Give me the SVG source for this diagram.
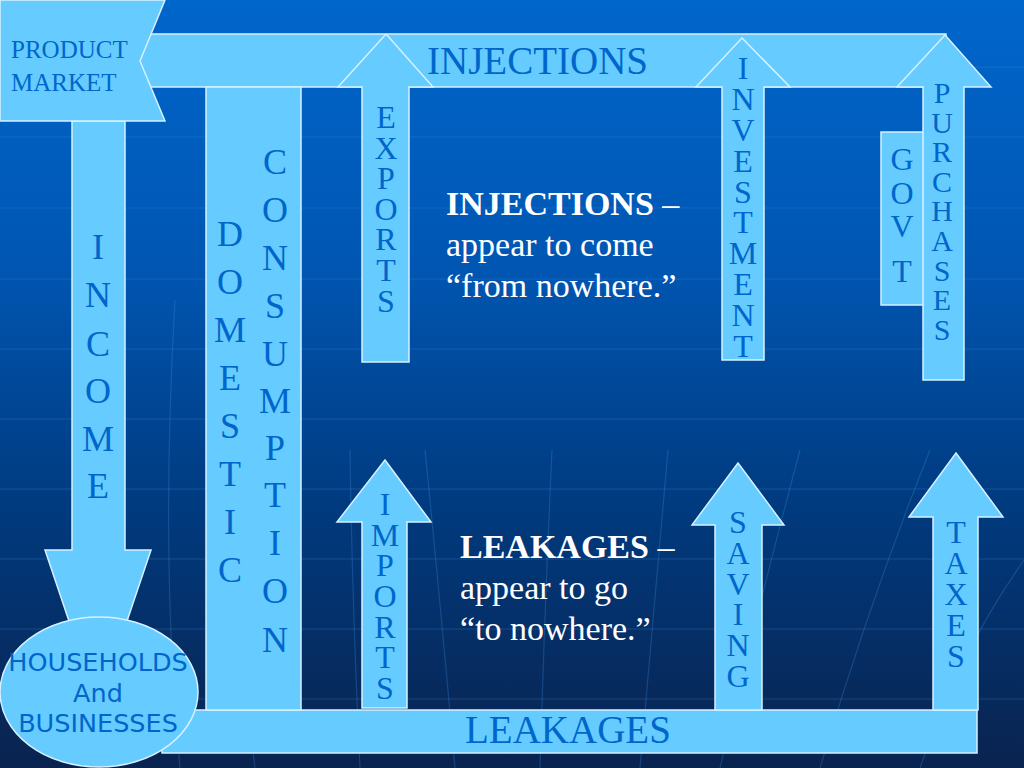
<svg xmlns="http://www.w3.org/2000/svg" width="1024" height="768" viewBox="0 0 1024 768">
<defs>
<linearGradient id="bg" x1="0" y1="0" x2="0" y2="1">
<stop offset="0" stop-color="#0066CC"/>
<stop offset="0.35" stop-color="#0056B2"/>
<stop offset="0.65" stop-color="#003B80"/>
<stop offset="1" stop-color="#0A234F"/>
</linearGradient>
<style>
.shape{fill:#66CCFF;stroke:#D6F1FF;stroke-width:1.5}
.lbl{font-family:"Liberation Serif","Times New Roman",serif;fill:#0066CC;text-anchor:middle}
.big{font-size:36px}
.sm{font-size:32px}
.head{font-family:"Liberation Serif","Times New Roman",serif;fill:#0066CC;font-size:39px}
.note{font-family:"Liberation Serif","Times New Roman",serif;fill:#FFFFFF;font-size:34px}
.grid{stroke:#3C8BDA;stroke-opacity:0.3;stroke-width:1.2;fill:none}
</style>
</defs>
<rect x="0" y="0" width="1024" height="768" fill="url(#bg)"/>
<g id="background-grid">
<path class="grid" d="M0 67H1024M0 137H1024M0 208H1024M0 279H1024M0 349H1024M0 419H1024M0 489H1024M0 559H1024M0 629H1024M0 699H1024"/>
<path class="grid" d="M360 768 Q352 600 350 450M455 768 Q440 600 425 450M540 768 Q545 600 552 450M640 768 Q655 600 668 450M720 768 Q760 600 800 450M820 768 Q870 600 930 450M920 768 Q960 650 1024 560M180 768 Q160 560 175 300M255 768 Q235 600 240 450"/>
</g>
<g id="connectors">
<rect id="injections-bar" class="shape" x="140" y="34" width="806" height="53"/>
<rect id="leakages-bar" class="shape" x="162" y="710" width="815" height="43"/>
<polygon id="income-arrow" class="shape" points="72,121 125,121 125,550 151,550 98,707 45,550 72,550"/>
</g>
<g id="injections-label"><text class="head" x="427" y="74">INJECTIONS</text></g>
<g id="leakages-label"><text class="head" x="465" y="743">LEAKAGES</text></g>
<g id="product-market">
<polygon class="shape" points="0,0 165,0 140,61 165,121 0,121"/>
<text font-family="Liberation Serif, Times New Roman, serif" font-size="25" fill="#0066CC"><tspan x="11" y="58">PRODUCT</tspan><tspan x="11" y="91">MARKET</tspan></text>
</g>
<g id="income-label">
<text class="lbl big"><tspan x="98" y="259">I</tspan><tspan x="98" y="307">N</tspan><tspan x="98" y="356">C</tspan><tspan x="98" y="403">O</tspan><tspan x="98" y="451">M</tspan><tspan x="98" y="498">E</tspan></text>
</g>
<g id="domestic-consumption">
<rect class="shape" x="206" y="87" width="95" height="623"/>
<text class="lbl big"><tspan x="230" y="246">D</tspan><tspan x="230" y="294">O</tspan><tspan x="230" y="342">M</tspan><tspan x="230" y="390">E</tspan><tspan x="230" y="438">S</tspan><tspan x="230" y="486">T</tspan><tspan x="230" y="534">I</tspan><tspan x="230" y="582">C</tspan></text>
<text class="lbl big"><tspan x="275" y="174">C</tspan><tspan x="275" y="222">O</tspan><tspan x="275" y="270">N</tspan><tspan x="275" y="318">S</tspan><tspan x="275" y="366">U</tspan><tspan x="275" y="413">M</tspan><tspan x="275" y="460">P</tspan><tspan x="275" y="507">T</tspan><tspan x="275" y="555">I</tspan><tspan x="275" y="603">O</tspan><tspan x="275" y="652">N</tspan></text>
</g>
<g id="households">
<ellipse class="shape" cx="99" cy="692" rx="99" ry="75"/>
<text font-family="DejaVu Sans, Verdana, sans-serif" font-size="25.5" fill="#0066CC" text-anchor="middle"><tspan x="98" y="671">HOUSEHOLDS</tspan><tspan x="98" y="702">And</tspan><tspan x="98" y="732">BUSINESSES</tspan></text>
</g>
<g id="exports">
<polygon class="shape" points="386,34 433,87 409,87 409,362 362,362 362,87 338,87"/>
<text class="lbl sm"><tspan x="386" y="128">E</tspan><tspan x="386" y="159">X</tspan><tspan x="386" y="189">P</tspan><tspan x="386" y="220">O</tspan><tspan x="386" y="250">R</tspan><tspan x="386" y="281">T</tspan><tspan x="386" y="312">S</tspan></text>
</g>
<g id="investment">
<polygon class="shape" points="742,38 790,87 764,87 764,360 722,360 722,87 696,87"/>
<text class="lbl sm"><tspan x="743" y="79">I</tspan><tspan x="743" y="110">N</tspan><tspan x="743" y="141">V</tspan><tspan x="743" y="172">E</tspan><tspan x="743" y="203">S</tspan><tspan x="743" y="233">T</tspan><tspan x="743" y="264">M</tspan><tspan x="743" y="295">E</tspan><tspan x="743" y="326">N</tspan><tspan x="743" y="357">T</tspan></text>
</g>
<g id="govt">
<rect class="shape" x="881" y="132" width="44" height="173"/>
<text class="lbl sm"><tspan x="902" y="170">G</tspan><tspan x="902" y="204">O</tspan><tspan x="902" y="237">V</tspan><tspan x="902" y="282">T</tspan></text>
</g>
<g id="purchases">
<polygon class="shape" points="945,35 991,87 964,87 964,380 923,380 923,87 897,87"/>
<text class="lbl" font-size="30"><tspan x="942" y="103">P</tspan><tspan x="942" y="133">U</tspan><tspan x="942" y="162">R</tspan><tspan x="942" y="192">C</tspan><tspan x="942" y="221">H</tspan><tspan x="942" y="251">A</tspan><tspan x="942" y="281">S</tspan><tspan x="942" y="310">E</tspan><tspan x="942" y="340">S</tspan></text>
</g>
<g id="imports">
<polygon class="shape" points="385,460 431,522 407,522 407,708 362,708 362,522 337,522"/>
<text class="lbl sm"><tspan x="385" y="515">I</tspan><tspan x="385" y="546">M</tspan><tspan x="385" y="576">P</tspan><tspan x="385" y="607">O</tspan><tspan x="385" y="638">R</tspan><tspan x="385" y="668">T</tspan><tspan x="385" y="699">S</tspan></text>
</g>
<g id="saving">
<polygon class="shape" points="738,463 784,525 762,525 762,710 715,710 715,525 692,525"/>
<text class="lbl sm"><tspan x="738" y="533">S</tspan><tspan x="738" y="564">A</tspan><tspan x="738" y="595">V</tspan><tspan x="738" y="625">I</tspan><tspan x="738" y="656">N</tspan><tspan x="738" y="687">G</tspan></text>
</g>
<g id="taxes">
<polygon class="shape" points="956,453 1003,517 978,517 978,710 933,710 933,517 909,517"/>
<text class="lbl sm"><tspan x="956" y="543">T</tspan><tspan x="956" y="574">A</tspan><tspan x="956" y="605">X</tspan><tspan x="956" y="636">E</tspan><tspan x="956" y="667">S</tspan></text>
</g>
<g id="injections-note">
<text class="note"><tspan x="446" y="215" font-weight="bold">INJECTIONS</tspan><tspan> –</tspan><tspan x="446" y="256">appear to come</tspan><tspan x="446" y="297">“from nowhere.”</tspan></text>
</g>
<g id="leakages-note">
<text class="note"><tspan x="460" y="558" font-weight="bold">LEAKAGES</tspan><tspan> –</tspan><tspan x="460" y="599">appear to go</tspan><tspan x="460" y="640">“to nowhere.”</tspan></text>
</g>
</svg>
